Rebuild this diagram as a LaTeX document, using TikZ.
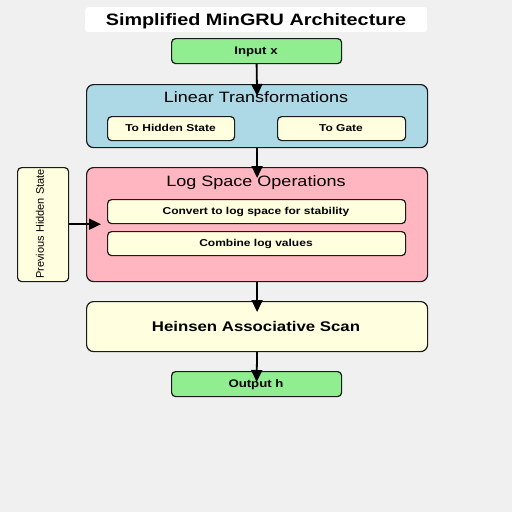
\documentclass[tikz,border=0pt]{standalone}
\usepackage{fontspec}
\setmainfont{Liberation Sans}
\newfontfamily\wide[FakeStretch=1.2]{Liberation Sans}
\usetikzlibrary{arrows.meta}
\definecolor{bg}{HTML}{F0F0F0}
\definecolor{lgreen}{HTML}{90EE90}
\definecolor{lblue}{HTML}{ADD8E6}
\definecolor{lpink}{HTML}{FFB6C1}
\definecolor{lyellow}{HTML}{FFFFE0}
\definecolor{edge}{HTML}{1A1A1A}
\tikzset{
  box/.style={draw=edge, line width=1.2pt, rounded corners=4pt, inner sep=0pt, anchor=north west},
  bigbox/.style={box, rounded corners=7pt},
  conn/.style={line width=1.8pt, -{Triangle[length=12pt,width=11pt]}},
  txt/.style={text depth=0pt, inner sep=0pt},
  sub/.style={txt, text height=7.2pt, font=\wide\bfseries\fontsize{10}{12}\selectfont},
  lab/.style={txt, text height=7.9pt, font=\wide\bfseries\fontsize{11}{13}\selectfont},
  head/.style={txt, text height=10.7pt, font=\wide\fontsize{15}{17}\selectfont},
}
\begin{document}
\begin{tikzpicture}[x=1pt,y=-1pt]
\fill[bg] (0,0) rectangle (512,512);
\useasboundingbox (0,0) rectangle (512,512);
% title
\node[fill=white, rounded corners=3pt, minimum width=342pt, minimum height=25pt, anchor=north west, inner sep=0pt] (title) at (85,7) {};
\node[txt, text height=11.8pt, font=\wide\bfseries\fontsize{16.5}{18}\selectfont] (titletext) at (256,20) {Simplified MinGRU Architecture};
% input
\node[box, fill=lgreen, minimum width=170pt, minimum height=25pt] (inp) at (171,38) {};
\node[lab] (inpt) at (256,50.5) {Input x};
% linear
\node[bigbox, fill=lblue, minimum width=341pt, minimum height=63pt] (lin) at (86,84) {};
\node[head] (lint) at (256,97.5) {Linear Transformations};
\node[box, fill=lyellow, minimum width=127pt, minimum height=24pt] (hid) at (107,116) {};
\node[sub] (hidt) at (170.5,128) {To Hidden State};
\node[box, fill=lyellow, minimum width=128pt, minimum height=24pt] (gate) at (277,116) {};
\node[sub] (gatet) at (341,128) {To Gate};
% log
\node[bigbox, fill=lpink, minimum width=341pt, minimum height=114pt] (log) at (86,167) {};
\node[head] (logt) at (256,181.5) {Log Space Operations};
\node[box, fill=lyellow, minimum width=298pt, minimum height=24pt] (conv) at (107,199) {};
\node[sub] (convt) at (256,211) {Convert to log space for stability};
\node[box, fill=lyellow, minimum width=298pt, minimum height=24pt] (comb) at (107,231) {};
\node[sub] (combt) at (256,243) {Combine log values};
% previous hidden
\node[box, fill=lyellow, minimum width=51pt, minimum height=114pt] (prev) at (17,167) {};
\node[txt, text height=7.9pt, rotate=90, font=\fontsize{11}{13}\selectfont] (prevt) at (40,224) {Previous Hidden State};
% heinsen
\node[bigbox, fill=lyellow, minimum width=341pt, minimum height=50pt] (hein) at (86,301) {};
\node[txt, text height=10pt, font=\wide\bfseries\fontsize{14}{16}\selectfont] (heint) at (256,326) {Heinsen Associative Scan};
% output
\node[box, fill=lgreen, minimum width=170pt, minimum height=25pt] (out) at (171,371) {};
\node[lab] (outt) at (256,384) {Output h};
% connectors
\draw[conn] (inp.south) -- ([yshift=-12pt]lin.north);
\draw[conn] (lin.south) -- ([yshift=-11pt]log.north);
\draw[conn] (log.south) -- ([yshift=-11pt]hein.north);
\draw[conn] (hein.south) -- ([yshift=-11pt]out.north);
\draw[conn] (prev.east |- conv.south) -- ([xshift=15pt]log.west |- conv.south);
\end{tikzpicture}
\end{document}
